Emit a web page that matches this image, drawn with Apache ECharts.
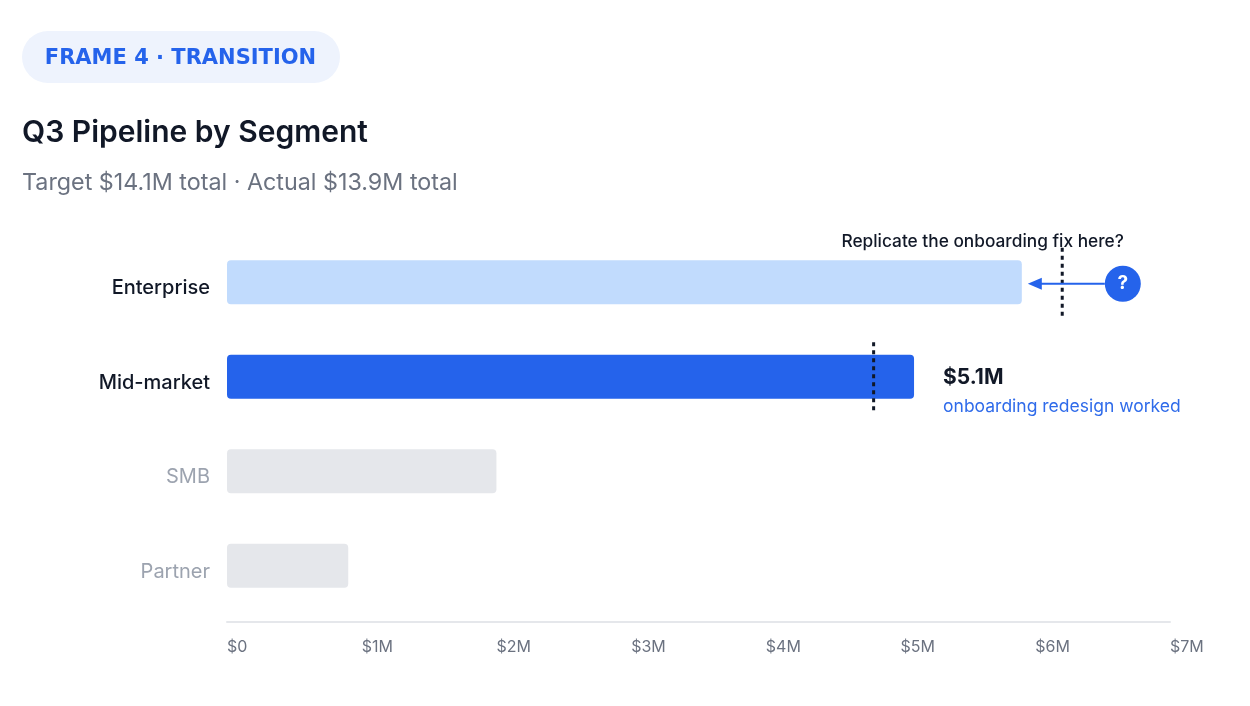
<!DOCTYPE html>
<html>
<head>
<meta charset="utf-8">
<script src="https://cdn.jsdelivr.net/npm/echarts@6/dist/echarts.min.js"></script>
<style>
  html, body { margin: 0; padding: 0; background: #fff; }
  #chart { width: 1250px; height: 706px; }
</style>
</head>
<body>
<div id="chart"></div>
<script>
// data
const segments = ['Enterprise', 'Mid-market', 'SMB', 'Partner']
const actual = [5.9, 5.1, 2.0, 0.9]          // $M
const targets = [6.2, 4.8, null, null]       // $M, only shown where relevant
const tickLabels = ['$0', '$1M', '$2M', '$3M', '$4M', '$5M', '$6M', '$7M']

const FONT = 'Inter, "Noto Sans", sans-serif'
const barColors = ['#C1DBFD', '#2563EB', '#E5E7EB', '#E5E7EB']
const labelStyle = ['strong', 'strong', 'muted', 'muted']

const chart = echarts.init(document.getElementById('chart'))

const option = {
  animation: false,
  textStyle: { fontFamily: FONT },
  grid: { left: 227, right: 80, top: 235, bottom: 93, containLabel: false },
  xAxis: {
    type: 'value',
    min: 0,
    max: 7,
    interval: 1,
    offset: 9,
    axisLine: { show: true, lineStyle: { color: '#E5E7EB', width: 2 } },
    axisTick: { show: false },
    splitLine: { show: false },
    axisLabel: {
      margin: 17,
      align: 'left',
      color: '#6B7280',
      fontSize: 16,
      fontFamily: FONT,
      formatter: (v) => tickLabels[Math.round(v)]
    }
  },
  yAxis: {
    type: 'category',
    inverse: true,
    data: segments,
    axisLine: { show: false },
    axisTick: { show: false },
    axisLabel: {
      margin: 17,
      formatter: (v, i) => '{' + labelStyle[i] + '|' + v + '}',
      rich: {
        strong: { fontSize: 20, fontWeight: 500, color: '#111827', fontFamily: FONT, padding: [12, 0, 0, 0] },
        muted: { fontSize: 20, fontWeight: 400, color: '#9CA3AF', fontFamily: FONT, padding: [12, 0, 0, 0] }
      }
    }
  },
  series: [
    {
      type: 'bar',
      barWidth: 44,
      data: actual.map((v, i) => ({
        value: v,
        itemStyle: { color: barColors[i], borderRadius: 4 },
        label: i === 1 ? {
          show: true,
          position: 'right',
          distance: 29,
          offset: [0, 15],
          align: 'left',
          formatter: '{v|$' + v.toFixed(1) + 'M}\n{s|onboarding redesign worked}',
          rich: {
            v: { fontSize: 21, fontWeight: 700, color: '#111827', fontFamily: FONT, lineHeight: 30 },
            s: { fontSize: 17.5, fontWeight: 400, color: '#2F6BEA', fontFamily: FONT, lineHeight: 28 }
          }
        } : { show: false }
      }))
    },
    {
      type: 'custom',
      data: targets.map((t, i) => [t, i]).filter(d => d[0] != null),
      encode: { x: 0, y: 1 },
      z: 5,
      renderItem: (params, api) => {
        const p = api.coord([api.value(0), api.value(1)])
        const band = api.size([0, 1])[1]
        return {
          type: 'line',
          shape: { x1: p[0], y1: p[1] - band * 0.365, x2: p[0], y2: p[1] + band * 0.365 },
          style: { stroke: '#111827', lineWidth: 3, lineDash: [4, 4] }
        }
      }
    }
  ]
}
chart.setOption(option)

// annotations anchored to the Enterprise bar end
const barEnd = chart.convertToPixel({ xAxisIndex: 0, yAxisIndex: 0 }, [actual[0], 0])
const cx = barEnd[0] + 101
const cy = barEnd[1] + 1.5
const headX = barEnd[0] + 6

chart.setOption({
  graphic: [
    {
      type: 'rect',
      shape: { x: 22, y: 31, width: 318, height: 52, r: 26 },
      style: { fill: '#EEF3FD' }
    },
    {
      type: 'text',
      x: 180.5, y: 59,
      style: {
        text: 'FRAME 4 · TRANSITION',
        font: '700 21px "DejaVu Sans", ' + FONT,
        fill: '#2563EB',
        align: 'center',
        verticalAlign: 'middle'
      }
    },
    {
      type: 'text',
      x: 22, y: 133,
      style: {
        text: 'Q3 Pipeline by Segment',
        font: '600 30px ' + FONT,
        fill: '#111827',
        verticalAlign: 'middle'
      }
    },
    {
      type: 'text',
      x: 22, y: 183,
      style: {
        text: 'Target $14.1M total · Actual $13.9M total',
        font: '400 23.3px ' + FONT,
        fill: '#6B7280',
        verticalAlign: 'middle'
      }
    },
    {
      type: 'text',
      x: cx + 1, y: 242,
      z: 10,
      style: {
        text: 'Replicate the onboarding fix here?',
        font: '500 17.3px ' + FONT,
        fill: '#111827',
        align: 'right',
        verticalAlign: 'middle'
      }
    },
    {
      type: 'line',
      z: 10,
      shape: { x1: cx - 18, y1: cy, x2: headX + 10, y2: cy },
      style: { stroke: '#2563EB', lineWidth: 2 }
    },
    {
      type: 'polygon',
      z: 10,
      shape: { points: [[headX, cy], [headX + 14, cy - 6], [headX + 14, cy + 6]] },
      style: { fill: '#2563EB' }
    },
    {
      type: 'circle',
      z: 10,
      shape: { cx: cx, cy: cy, r: 18 },
      style: { fill: '#2563EB' }
    },
    {
      type: 'text',
      z: 11,
      x: cx, y: cy,
      style: {
        text: '?',
        font: '700 19px ' + FONT,
        fill: '#ffffff',
        align: 'center',
        verticalAlign: 'middle'
      }
    }
  ]
})
</script>
</body>
</html>
